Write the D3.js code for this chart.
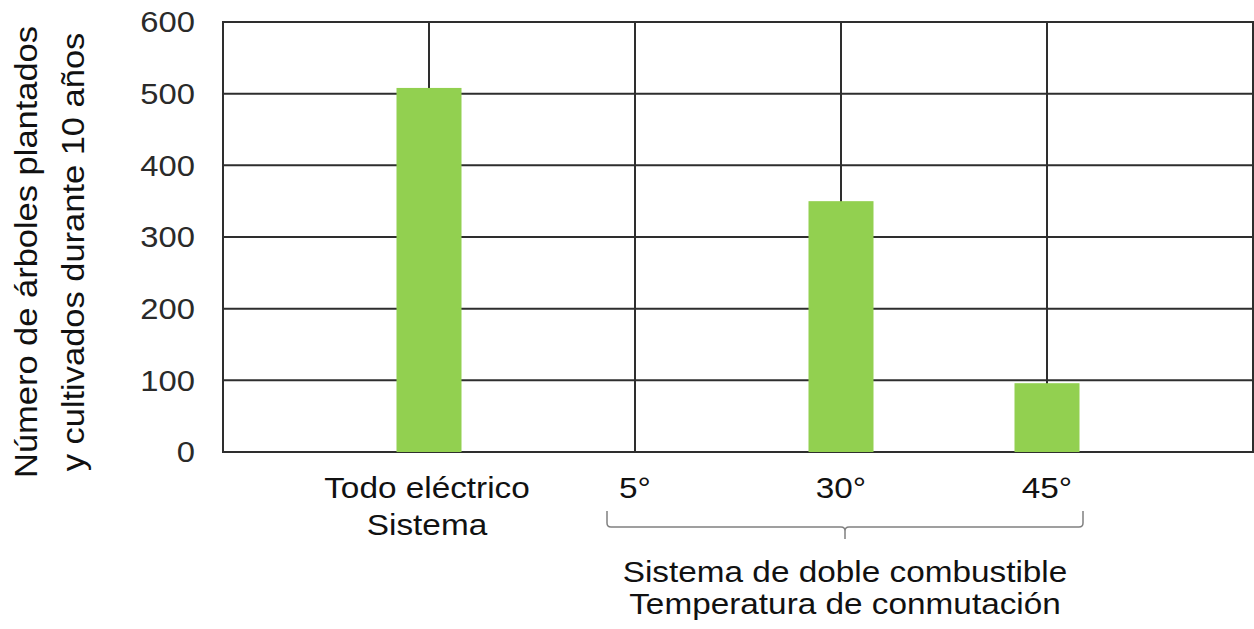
<!DOCTYPE html>
<html>
<head>
<meta charset="utf-8">
<script src="https://cdn.jsdelivr.net/npm/d3@7"></script>
<style>
    body { margin: 0; background: #fff; }
    svg { display: block; }
</style>
</head>
<body>
<svg id="chart"></svg>
<script>
// data
const categories = ['Todo eléctrico', '5°', '30°', '45°'];
const trees = [508, 0, 350, 96];
const yTicks = [0, 100, 200, 300, 400, 500, 600];
const groupLabel = ['Sistema de doble combustible', 'Temperatura de conmutación'];
const yLabel = ['Número de árboles plantados', 'y cultivados durante 10 años'];

const width = 1254, height = 629;
const margin = { top: 22, right: 1, bottom: 177, left: 223 };
const font = '"Liberation Sans", Arial, sans-serif';
const stretch = 1.13; // reference glyphs are a bit wider than arial

let svg = d3.select('#chart')
    .attr('width', width)
    .attr('height', height);

let xScale = d3.scalePoint()
    .domain(categories)
    .range([margin.left, width - margin.right])
    .padding(1);

let yScale = d3.scaleLinear()
    .domain([0, 600])
    .range([height - margin.bottom, margin.top]);

const gridColor = '#2e2e2e';

// horizontal gridlines
svg.append('g')
    .selectAll('line')
    .data(yTicks)
    .enter()
    .append('line')
    .attr('x1', margin.left)
    .attr('x2', width - margin.right)
    .attr('y1', d => yScale(d))
    .attr('y2', d => yScale(d))
    .attr('stroke', gridColor)
    .attr('stroke-width', 2);

// vertical gridlines on each category + plot edges
let xLines = [margin.left].concat(categories.map(c => xScale(c)), [width - margin.right]);
svg.append('g')
    .selectAll('line')
    .data(xLines)
    .enter()
    .append('line')
    .attr('x1', d => d)
    .attr('x2', d => d)
    .attr('y1', yScale(600) - 1)
    .attr('y2', yScale(0) + 1)
    .attr('stroke', gridColor)
    .attr('stroke-width', 2);

// bars
const barW = 65;
svg.append('g')
    .selectAll('rect')
    .data(categories)
    .enter()
    .append('rect')
    .attr('x', d => xScale(d) - barW / 2)
    .attr('y', (d, i) => yScale(trees[i]))
    .attr('width', barW)
    .attr('height', (d, i) => yScale(0) - yScale(trees[i]))
    .attr('fill', '#92d050');

// y tick labels
let yAxis = d3.axisLeft(yScale)
    .tickValues(yTicks)
    .tickSize(0)
    .tickPadding(28);

let yG = svg.append('g')
    .attr('transform', `translate(${margin.left},0)`)
    .call(yAxis);
yG.select('.domain').remove();
yG.selectAll('text')
    .attr('font-family', font)
    .attr('font-size', '29px')
    .attr('fill', '#2a2a2a')
    .attr('dy', '0.34em')
    .attr('transform', function () {
        let x = +d3.select(this).attr('x');
        return `translate(${x},0) scale(${stretch},1) translate(${-x},0)`;
    });

// helper for stretched horizontal text
function label(x, y, txt, size) {
    svg.append('text')
        .attr('transform', `translate(${x},${y}) scale(${stretch},1)`)
        .attr('text-anchor', 'middle')
        .attr('font-family', font)
        .attr('font-size', size)
        .attr('fill', '#111')
        .text(txt);
}

// category labels
categories.forEach((c, i) => {
    if (i === 0) {
        label(xScale(c) - 2, 498, 'Todo eléctrico', '29.5px');
        label(xScale(c) - 2, 535, 'Sistema', '29.5px');
    } else {
        label(xScale(c), 498, c, '29.5px');
    }
});

// brace under the dual fuel temperatures
let bl = xScale('5°') - 28, br = xScale('45°') + 36;
let bm = (bl + br) / 2;
let by = 527;
svg.append('path')
    .attr('d', `M${bl},511 L${bl},${by - 4} Q${bl},${by} ${bl + 4},${by} L${bm - 4},${by} Q${bm},${by} ${bm},${by + 4} L${bm},${by + 12}
                M${bm},${by + 4} Q${bm},${by} ${bm + 4},${by} L${br - 4},${by} Q${br},${by} ${br},${by - 4} L${br},511`)
    .attr('fill', 'none')
    .attr('stroke', '#808080')
    .attr('stroke-width', 1.5);

label(bm, 582, groupLabel[0], '29.5px');
label(bm, 614, groupLabel[1], '29.5px');

// y axis title, two lines rotated
yLabel.forEach((t, i) => {
    svg.append('text')
        .attr('transform', `translate(${37 + i * 47},252) rotate(-90) scale(${stretch},1)`)
        .attr('text-anchor', 'middle')
        .attr('font-family', font)
        .attr('font-size', '30.5px')
        .attr('fill', '#111')
        .text(t);
});
</script>
</body>
</html>
